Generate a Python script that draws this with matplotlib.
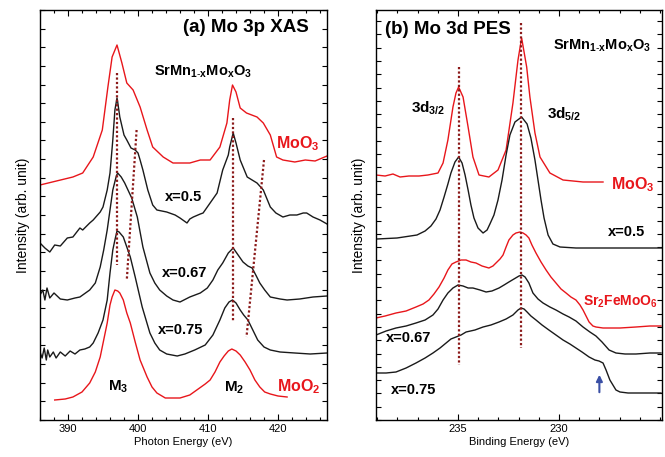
import numpy as np
import matplotlib
matplotlib.use('Agg')
import matplotlib.pyplot as plt
from matplotlib.ticker import MultipleLocator, FixedLocator

plt.rcParams['font.family'] = ['Liberation Sans', 'DejaVu Sans']
plt.rcParams['mathtext.fontset'] = 'custom'
plt.rcParams['mathtext.rm'] = 'Liberation Sans'
plt.rcParams['mathtext.bf'] = 'Liberation Sans:bold'
plt.rcParams['mathtext.it'] = 'Liberation Sans:italic'

red = '#e8161b'
black = '#1a1a1a'
dot_color = '#8b1a1a'

# ---------------- (a) Mo 3p XAS, photon energy (eV) / intensity (arb.)
xas_moo3_e = [386.0, 390.7, 392.1, 393.6, 394.9, 395.7, 396.3, 397.0, 397.7, 398.4, 399.3, 400.3, 401.3,
              402.1, 403.6, 405.0, 406.4, 407.4, 408.9, 410.3, 411.7, 412.7, 413.1, 413.5, 414.0, 414.6,
              415.5, 417.0, 417.9, 418.9, 419.8, 420.7, 422.4, 423.9, 425.3, 427.0]
xas_moo3_i = [235, 243, 247, 263, 290, 333, 363, 375, 357, 337, 330, 313, 290,
              273, 263, 257, 257, 257, 260, 260, 273, 297, 320, 335, 328, 312,
              307, 303, 297, 285, 263, 260, 258, 260, 259, 264]

xas_x05_e = [386.0, 386.7, 387.4, 388.1, 388.9, 389.9, 390.7, 391.7, 392.1, 393.1, 393.6, 394.6, 395.0,
             395.6, 396.0, 396.4, 396.7, 397.0, 397.1, 397.4, 398.0, 398.4, 399.0, 399.6, 400.0, 400.3,
             400.7, 401.4, 402.1, 402.7, 404.1, 405.3, 406.0, 407.0, 407.4, 407.9, 408.9, 409.3, 410.3,
             411.3, 412.1, 412.9, 413.1, 413.6, 414.0, 414.6, 415.6, 416.3, 417.0, 417.9, 418.9, 419.7,
             420.7, 421.7, 422.7, 423.6, 424.1, 425.0, 426.0, 427.0]
xas_x05_i = [177, 172, 168, 175, 174, 182, 183, 192, 190, 197, 200, 208, 213,
             230, 247, 280, 310, 322, 318, 303, 285, 280, 272, 270, 267, 260,
             250, 230, 215, 210, 208, 205, 202, 197, 201, 203, 206, 207, 217,
             227, 250, 265, 273, 287, 277, 260, 243, 240, 237, 230, 213, 207,
             203, 205, 205, 207, 207, 203, 200, 196]

xas_x067_e = [386.0, 386.4, 386.7, 387.0, 387.4, 388.0, 388.9, 389.9, 391.0, 391.7, 393.1, 393.9, 394.6,
              395.1, 395.6, 396.0, 396.4, 396.9, 397.1, 397.6, 398.1, 398.7, 399.1, 399.9, 400.7, 401.7,
              402.4, 403.1, 404.1, 405.0, 406.0, 407.4, 408.9, 409.9, 410.7, 411.4, 412.1, 412.9, 413.6,
              414.3, 415.0, 415.7, 416.3, 416.9, 417.4, 418.1, 418.9, 420.3, 421.3, 423.1, 425.0, 427.0]
xas_x067_i = [125, 130, 120, 132, 122, 127, 121, 120, 122, 123, 130, 137, 153,
              170, 190, 210, 230, 244, 247, 243, 237, 228, 222, 203, 173, 147,
              137, 130, 124, 120, 118, 123, 127, 132, 140, 150, 157, 167, 172,
              165, 158, 154, 152, 144, 137, 130, 123, 121, 120, 121, 123, 124]

xas_x075_e = [386.0, 386.3, 386.6, 386.9, 387.1, 387.4, 387.9, 388.3, 388.9, 389.6, 390.3, 391.0, 391.7,
              392.4, 393.1, 393.6, 394.3, 395.0, 395.6, 396.0, 396.4, 396.7, 397.0, 397.3, 397.9, 398.4,
              398.9, 399.6, 400.6, 401.7, 402.4, 403.1, 404.1, 405.6, 406.7, 408.1, 409.6, 410.7, 411.7,
              412.4, 413.0, 413.5, 414.0, 414.6, 415.1, 415.7, 416.4, 417.1, 418.0, 418.9, 420.3, 422.4,
              424.6, 427.0]
xas_x075_i = [68, 62, 72, 60, 70, 63, 68, 62, 68, 64, 69, 66, 70,
              71, 73, 77, 87, 100, 120, 147, 170, 180, 189, 188, 183, 173,
              163, 143, 113, 87, 77, 70, 66, 64, 66, 70, 75, 85, 100,
              112, 118, 120, 117, 110, 105, 100, 90, 80, 73, 70, 68, 67,
              66, 67]

xas_moo2_e = [388.1, 389.6, 390.7, 392.0, 393.1, 393.9, 394.6, 395.1, 395.6, 396.0, 396.3, 396.7, 397.1,
              397.4, 397.9, 398.4, 398.9, 399.6, 400.3, 401.3, 402.0, 402.7, 403.9, 405.3, 406.0, 407.4,
              408.4, 409.6, 410.3, 411.0, 411.7, 412.3, 412.9, 413.4, 414.0, 414.6, 415.3, 416.0, 416.7,
              417.4, 418.1, 418.9, 420.0, 421.3]
xas_moo2_i = [20, 21, 23, 28, 37, 48, 63, 80, 97, 115, 123, 130, 129,
              127, 120, 107, 97, 78, 60, 43, 33, 27, 22, 22, 22, 25,
              30, 36, 40, 48, 58, 64, 69, 71, 69, 65, 58, 50, 40,
              33, 28, 26, 24, 23]

# dotted guide lines: (energy_top, energy_bottom, y_top, y_bottom)
xas_guides = [(397.0, 397.0, 347, 155), (399.8, 398.4, 290, 140),
              (413.6, 413.6, 302, 98), (418.0, 415.5, 260, 83)]

# ---------------- (b) Mo 3d PES, binding energy (eV) / intensity (arb.)
pes_moo3_e = [239.06, 238.61, 238.22, 237.87, 237.43, 236.93, 236.49, 235.99, 235.74, 235.50, 235.25,
              235.10, 234.97, 234.75, 234.50, 234.26, 233.96, 233.47, 233.02, 232.62, 232.28, 232.03,
              231.85, 231.60, 231.44, 231.19, 230.94, 230.45, 229.80, 228.81, 227.82]
pes_moo3_i = [245, 244, 246, 243, 244, 244, 245, 247, 257, 280, 313,
              327, 333, 323, 293, 263, 245, 243, 250, 270, 317, 360,
              382, 353, 323, 287, 263, 247, 240, 238, 238]

pes_x05_e = [239.02, 238.02, 237.03, 236.63, 236.34, 236.09, 235.89, 235.69, 235.50, 235.35, 235.15,
             234.97, 234.80, 234.65, 234.50, 234.36, 234.21, 234.01, 233.76, 233.56, 233.42, 233.22,
             233.02, 232.82, 232.62, 232.43, 232.18, 231.85, 231.58, 231.39, 231.19, 231.04, 230.89,
             230.74, 230.54, 230.30, 229.95, 229.16, 227.52, 224.87]
pes_x05_i = [181, 182, 185, 189, 194, 201, 210, 223, 236, 247, 258,
             263, 257, 245, 230, 215, 202, 192, 187, 190, 196, 205,
             220, 240, 265, 285, 298, 303, 296, 282, 260, 240, 220,
             202, 185, 176, 173, 172, 172, 172]

pes_sfmo_e = [239.06, 238.61, 238.07, 237.57, 237.08, 236.73, 236.44, 236.19, 235.94, 235.69, 235.50,
              235.30, 235.10, 234.85, 234.60, 234.36, 234.11, 233.81, 233.47, 233.27, 233.12, 232.92,
              232.77, 232.62, 232.48, 232.28, 232.13, 231.93, 231.78, 231.63, 231.49, 231.34, 231.14,
              230.89, 230.64, 230.40, 230.15, 229.90, 229.65, 229.41, 229.16, 228.96, 228.81, 228.66,
              228.51, 228.32, 228.17, 227.82, 227.52, 226.98, 226.19, 225.50, 224.95]
pes_sfmo_i = [102, 104, 107, 109, 113, 116, 120, 126, 133, 142, 150,
              156, 158, 160, 160, 158, 157, 154, 152, 154, 157, 161,
              165, 173, 180, 185, 187, 188, 187, 185, 182, 175, 167,
              158, 150, 143, 137, 131, 127, 123, 120, 115, 110, 104,
              98, 94, 93, 92, 92, 92, 93, 94, 94]

pes_x067_e = [239.06, 238.56, 238.07, 237.57, 237.08, 236.63, 236.24, 235.99, 235.74, 235.50, 235.25,
              235.00, 234.75, 234.50, 234.26, 233.91, 233.61, 233.32, 232.97, 232.72, 232.48, 232.23,
              231.98, 231.83, 231.68, 231.49, 231.29, 231.04, 230.79, 230.45, 230.15, 229.80, 229.50,
              229.16, 228.81, 228.47, 228.17, 227.87, 227.52, 227.18, 226.73, 226.19, 225.50, 224.95]
pes_x067_i = [85, 89, 92, 94, 97, 100, 105, 111, 120, 127, 132,
              135, 134, 132, 132, 130, 128, 129, 132, 135, 138, 141,
              144, 145, 143, 137, 127, 121, 117, 113, 110, 106, 103,
              99, 93, 88, 84, 78, 70, 67, 66, 66, 67, 67]

pes_x075_e = [239.06, 238.56, 238.07, 237.57, 237.08, 236.63, 236.24, 235.89, 235.59, 235.35, 235.10,
              234.85, 234.60, 234.16, 233.76, 233.37, 232.97, 232.62, 232.28, 232.03, 231.88, 231.73,
              231.58, 231.39, 231.14, 230.84, 230.50, 230.15, 229.80, 229.46, 229.16, 228.86, 228.51,
              228.22, 228.02, 227.82, 227.67, 227.48, 227.33, 227.18, 226.98, 226.58, 226.19, 225.59,
              224.95]
pes_x075_i = [47, 47, 48, 52, 57, 62, 67, 72, 77, 81, 83,
              85, 88, 90, 93, 95, 98, 101, 105, 110, 112, 111,
              108, 104, 100, 95, 90, 85, 80, 76, 72, 68, 63,
              60, 59, 57, 50, 40, 35, 30, 28, 27, 27, 27,
              27]

pes_guides = [(234.94, 234.94, 353, 55), (231.9, 231.9, 397, 72)]
pes_major_ticks = [235, 230]
arrow_e = 228.0
arrow_y = (25, 48)


def style_axes(ax, ytick_step):
    ax.tick_params(which='both', direction='in', top=True, right=True, labelsize=8,
                   width=0.8, pad=3)
    ax.tick_params(which='major', length=4.5)
    ax.tick_params(which='minor', length=2.5)
    ax.yaxis.set_major_locator(MultipleLocator(ytick_step))
    ax.set_yticklabels([])
    ax.tick_params(axis='y', which='major', length=3.5)
    for s in ax.spines.values():
        s.set_linewidth(1.0)
    ax.set_ylabel('Intensity (arb. unit)', fontsize=10, labelpad=4)


fig = plt.figure(figsize=(6.65, 4.57), dpi=100)
ax1 = fig.add_axes([40 / 665, 37 / 457, 287 / 665, 410 / 457])
ax2 = fig.add_axes([376 / 665, 37 / 457, 286 / 665, 410 / 457])

lw = 1.0
ax1.plot(xas_moo3_e, xas_moo3_i, color=red, lw=lw)
ax1.plot(xas_x05_e, xas_x05_i, color=black, lw=lw)
ax1.plot(xas_x067_e, xas_x067_i, color=black, lw=lw)
ax1.plot(xas_x075_e, xas_x075_i, color=black, lw=lw)
ax1.plot(xas_moo2_e, xas_moo2_i, color=red, lw=lw)
for e0, e1, y0, y1 in xas_guides:
    ax1.plot([e0, e1], [y0, y1], color=dot_color, lw=1.6, ls=(0, (1, 1)))

ax1.set_xlim(386, 427)
ax1.set_ylim(0, 410)
ax1.xaxis.set_major_locator(MultipleLocator(10))
ax1.xaxis.set_minor_locator(MultipleLocator(2))
style_axes(ax1, 410 / 22)
ax1.set_xlabel('Photon Energy (eV)', fontsize=8, labelpad=2)

bold = dict(fontweight='bold', ha='center', va='center')
ax1.text(415.4, 392, '(a) Mo 3p XAS', fontsize=13.5, **bold)
ax1.text(409.3, 348, r'SrMn$_{\mathbf{1\text{-}x}}$Mo$_\mathbf{x}$O$_\mathbf{3}$', fontsize=10.5, **bold)
ax1.text(422.8, 276, r'MoO$_\mathbf{3}$', fontsize=11.5, color=red, **bold)
ax1.text(406.5, 223, 'x=0.5', fontsize=10.5, **bold)
ax1.text(406.6, 147, 'x=0.67', fontsize=10.5, **bold)
ax1.text(406.1, 90, 'x=0.75', fontsize=10.5, **bold)
ax1.text(397.2, 33, r'M$_\mathbf{3}$', fontsize=11, **bold)
ax1.text(413.8, 32, r'M$_\mathbf{2}$', fontsize=11, **bold)
ax1.text(423.0, 33, r'MoO$_\mathbf{2}$', fontsize=11.5, color=red, **bold)

ax2.plot(pes_moo3_e, pes_moo3_i, color=red, lw=lw)
ax2.plot(pes_x05_e, pes_x05_i, color=black, lw=lw)
ax2.plot(pes_sfmo_e, pes_sfmo_i, color=red, lw=lw)
ax2.plot(pes_x067_e, pes_x067_i, color=black, lw=lw)
ax2.plot(pes_x075_e, pes_x075_i, color=black, lw=lw)
for e0, e1, y0, y1 in pes_guides:
    ax2.plot([e0, e1], [y0, y1], color=dot_color, lw=1.6, ls=(0, (1, 1)))
ax2.annotate('', xy=(arrow_e, arrow_y[1]), xytext=(arrow_e, arrow_y[0]),
             arrowprops=dict(arrowstyle='-|>', color='#3a4fa5', lw=1.5, mutation_scale=9))

ax2.set_xlim(239.06, 224.9)
ax2.set_ylim(0, 410)
ax2.xaxis.set_major_locator(FixedLocator(pes_major_ticks))
ax2.xaxis.set_minor_locator(MultipleLocator(1))
style_axes(ax2, 13.3)
ax2.set_xlabel('Binding Energy (eV)', fontsize=8, labelpad=2)

ax2.text(235.52, 391, '(b) Mo 3d PES', fontsize=13.5, **bold)
ax2.text(227.87, 374, r'SrMn$_{\mathbf{1\text{-}x}}$Mo$_\mathbf{x}$O$_\mathbf{3}$', fontsize=10.5, **bold)
ax2.text(236.49, 312, r'3d$_\mathbf{3/2}$', fontsize=11, **bold)
ax2.text(229.75, 306, r'3d$_\mathbf{5/2}$', fontsize=11, **bold)
ax2.text(226.36, 235, r'MoO$_\mathbf{3}$', fontsize=11.5, color=red, **bold)
ax2.text(226.68, 188, 'x=0.5', fontsize=10.5, **bold)
ax2.text(226.98, 118, r'Sr$_\mathbf{2}$FeMoO$_\mathbf{6}$', fontsize=10, color=red, **bold)
ax2.text(237.45, 82, 'x=0.67', fontsize=10.5, **bold)
ax2.text(237.20, 30, 'x=0.75', fontsize=10.5, **bold)

plt.savefig('out.png', dpi=100)
